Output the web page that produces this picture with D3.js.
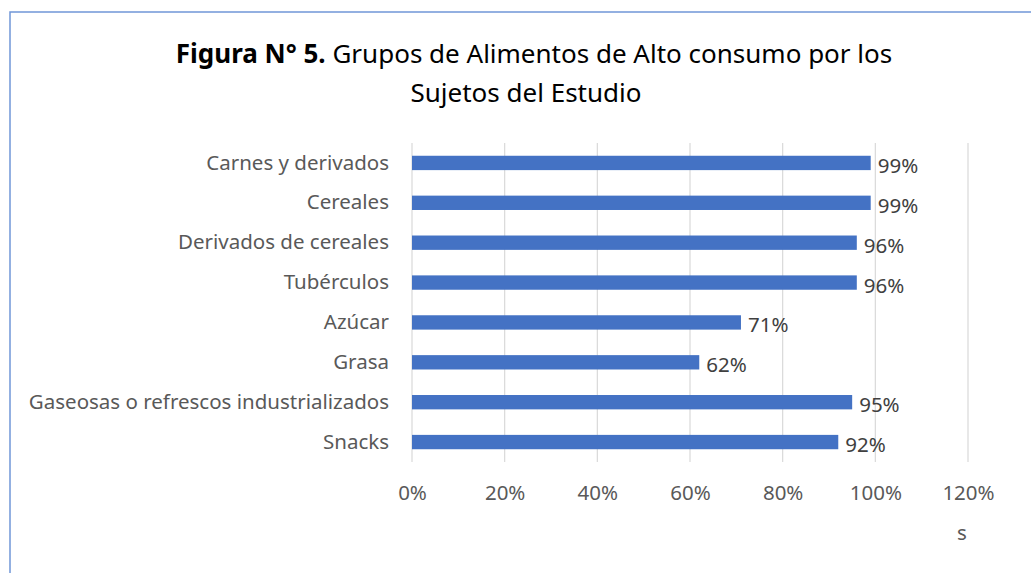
<!DOCTYPE html>
<html lang="es">
  <head>
    <meta charset="utf-8" />
    <script src="https://d3js.org/d3.v7.min.js"></script>
    <style>
      body {
        margin: 0;
        background: #fff;
      }
      .cat {
        font-family: "Noto Sans", "Open Sans", sans-serif;
        font-size: 20.5px;
        fill: #595959;
      }
      .val {
        font-family: "Noto Sans", "Open Sans", sans-serif;
        font-size: 20.5px;
        fill: #404040;
      }
      .title {
        font-family: "Noto Sans", "Open Sans", sans-serif;
        font-size: 26px;
        fill: #000;
      }
    </style>
  </head>
  <body>
    <svg width="1031" height="573"></svg>
    <script>
      var categories = [
        "Carnes y derivados",
        "Cereales",
        "Derivados de cereales",
        "Tubérculos",
        "Azúcar",
        "Grasa",
        "Gaseosas o refrescos industrializados",
        "Snacks",
      ];
      var values = [0.99, 0.99, 0.96, 0.96, 0.71, 0.62, 0.95, 0.92];
      var ticks = [0, 0.2, 0.4, 0.6, 0.8, 1.0, 1.2];

      var svg = d3.select("svg");

      // marco del gráfico
      svg
        .append("rect")
        .attr("x", 10)
        .attr("y", 12)
        .attr("width", 1040)
        .attr("height", 600)
        .attr("fill", "#fff")
        .attr("stroke", "#7096d8")
        .attr("stroke-width", 1.5);

      var title = svg
        .append("text")
        .attr("class", "title")
        .attr("text-anchor", "middle");
      var t1 = title.append("tspan").attr("x", 534).attr("y", 63);
      t1.append("tspan").attr("font-weight", "bold").text("Figura N° 5.");
      t1.append("tspan").text(" Grupos de Alimentos de Alto consumo por los");
      title
        .append("tspan")
        .attr("x", 526)
        .attr("y", 102)
        .text("Sujetos del Estudio");

      var x = d3.scaleLinear().domain([0, 1.2]).range([412, 968]);
      var y = d3
        .scaleBand()
        .domain(categories)
        .range([143, 462])
        .paddingInner(0.64)
        .paddingOuter(0.32);

      // líneas de cuadrícula
      svg
        .append("g")
        .selectAll("line")
        .data(ticks)
        .enter()
        .append("line")
        .attr("x1", (d) => x(d))
        .attr("x2", (d) => x(d))
        .attr("y1", 143)
        .attr("y2", 462)
        .attr("stroke", "#d9d9d9")
        .attr("stroke-width", 1.2);

      var xAxis = svg
        .append("g")
        .attr("transform", "translate(0,462)")
        .call(
          d3
            .axisBottom(x)
            .tickValues(ticks)
            .tickFormat(d3.format(".0%"))
            .tickSize(0)
            .tickPadding(23)
        );
      xAxis.select(".domain").remove();
      xAxis
        .selectAll("text")
        .attr("class", "cat")
        .attr("fill", null);
      xAxis.attr("font-family", null).attr("font-size", null);

      var yAxis = svg
        .append("g")
        .attr("transform", "translate(412,0)")
        .call(d3.axisLeft(y).tickSize(0).tickPadding(23));
      yAxis.select(".domain").remove();
      yAxis
        .selectAll("text")
        .attr("class", "cat")
        .attr("fill", null);
      yAxis.attr("font-family", null).attr("font-size", null);

      svg
        .append("g")
        .selectAll("rect")
        .data(values)
        .enter()
        .append("rect")
        .attr("x", x(0))
        .attr("y", (d, i) => y(categories[i]))
        .attr("width", (d) => x(d) - x(0))
        .attr("height", y.bandwidth())
        .attr("fill", "#4472c4");

      svg
        .append("g")
        .selectAll("text")
        .data(values)
        .enter()
        .append("text")
        .attr("class", "val")
        .attr("x", (d) => x(d) + 7)
        .attr("y", (d, i) => y(categories[i]) + y.bandwidth() / 2 + 10)
        .text((d) => d3.format(".0%")(d));

      svg
        .append("text")
        .attr("class", "cat")
        .attr("x", 962)
        .attr("y", 540)
        .attr("text-anchor", "middle")
        .text("s");
    </script>
  </body>
</html>
